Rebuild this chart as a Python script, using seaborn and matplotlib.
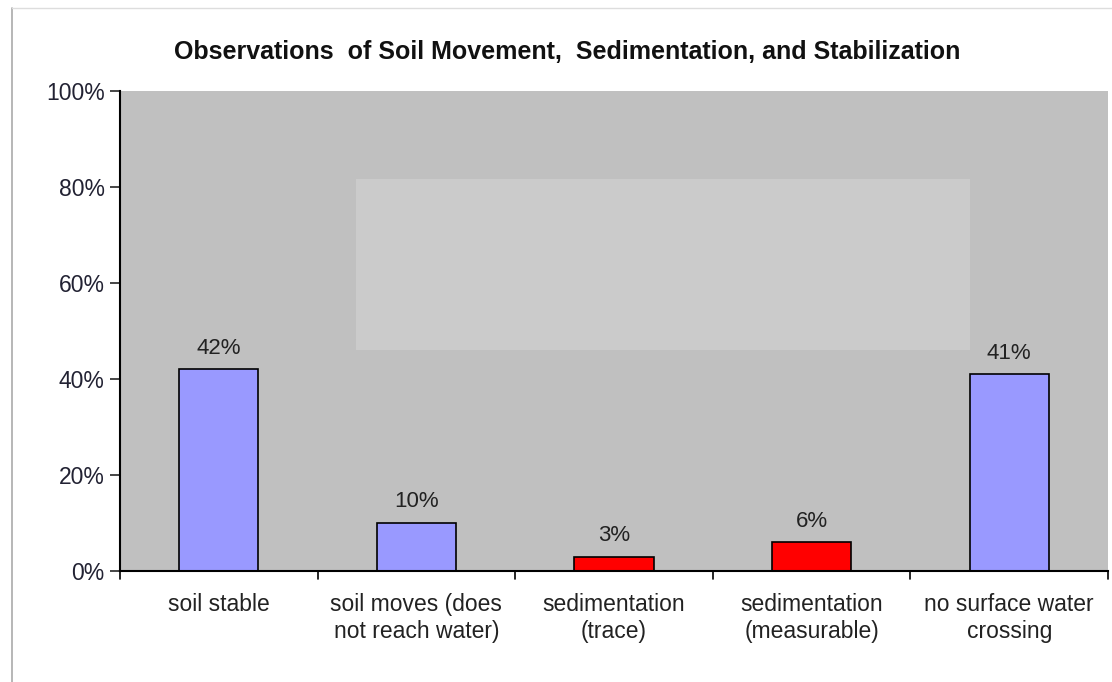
import matplotlib
matplotlib.use("Agg")
import matplotlib.pyplot as plt
import seaborn as sns
import pandas as pd
from matplotlib.patches import Rectangle
from matplotlib.lines import Line2D

categories = ["soil stable", "soil moves (does\nnot reach water)", "sedimentation\n(trace)",
              "sedimentation\n(measurable)", "no surface water\ncrossing"]
values = [42, 10, 3, 6, 41]
labels = ["42%", "10%", "3%", "6%", "41%"]
bar_colors = ["#9999ff", "#9999ff", "#ff0000", "#ff0000", "#9999ff"]
yticks = [0, 20, 40, 60, 80, 100]
ytick_labels = ["0%", "20%", "40%", "60%", "80%", "100%"]
title = "Observations  of Soil Movement,  Sedimentation, and Stabilization"

sns.set_style("white")
plt.rcParams['font.family'] = ['Liberation Sans', 'DejaVu Sans']

df = pd.DataFrame({"cat": categories, "val": values})

fig = plt.figure(figsize=(11.12, 6.82), dpi=100)
ax = fig.add_axes([120/1112, 1 - 571/682, (1108-120)/1112, (571-91)/682])
ax.set_facecolor("#c0c0c0")

sns.barplot(data=df, x="cat", y="val", hue="cat", palette=bar_colors, legend=False,
            width=0.4, edgecolor="#000000", linewidth=1.2, ax=ax, saturation=1)

# lighter rectangle artifact
ax.add_patch(Rectangle(((356-120)/988, (571-350)/480), (970-356)/988, (350-179)/480,
                       transform=ax.transAxes, facecolor="#cbcbcb", edgecolor="none", zorder=0.5))

for i, (v, lab) in enumerate(zip(values, labels)):
    ax.text(i, v + 2.2, lab, ha="center", va="bottom", fontsize=16, color="#222222")

ax.set_ylim(0, 100)
ax.set_xlim(-0.5, 4.5)
ax.set_yticks(yticks)
ax.set_yticklabels(ytick_labels, fontsize=16.5, color="#222233")
ax.set_xticks(range(5))
ax.set_xticklabels(categories, fontsize=16.5, color="#222222")
ax.tick_params(axis="x", length=0, pad=16)
ax.tick_params(axis="y", length=7, width=1.2, direction="out", left=True, pad=4)
for b in [-0.5, 0.5, 1.5, 2.5, 3.5, 4.5]:
    ax.plot([b, b], [0, -1.6], color="black", lw=1.2, clip_on=False)
ax.set_xlabel("")
ax.set_ylabel("")

for s in ["top", "right"]:
    ax.spines[s].set_visible(False)
for s in ["left", "bottom"]:
    ax.spines[s].set_color("black")
    ax.spines[s].set_linewidth(1.5)

fig.text(567/1112, 1 - 52/682, title, ha="center", va="center", fontsize=18,
         fontweight="bold", color="#111111")

fig.add_artist(Line2D([12/1112, 12/1112], [0, 1 - 8/682], color="#aaaaaa", lw=1.2))
fig.add_artist(Line2D([12/1112, 1], [1 - 8/682, 1 - 8/682], color="#dddddd", lw=1.0))

fig.savefig("out.png", dpi=100, facecolor="white")
